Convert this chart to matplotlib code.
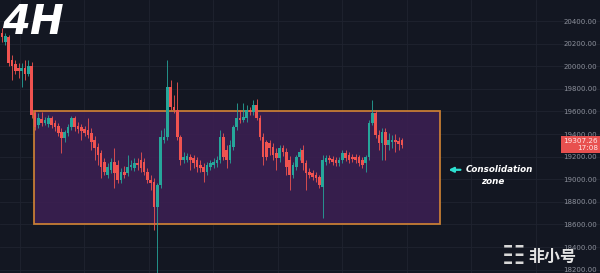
import matplotlib

matplotlib.use("Agg")
import matplotlib.pyplot as plt
from matplotlib.patches import Rectangle
from matplotlib.ticker import FuncFormatter

# 4H candles (price units)
opens = [
    20295, 20215, 20260, 20055, 20020, 19985, 19960, 19985, 19930, 20000,
    19585, 19480, 19535, 19500, 19490, 19540, 19500, 19470, 19420, 19365,
    19410, 19460, 19540, 19470, 19460, 19445, 19435, 19410, 19345, 19285,
    19230, 19150, 19040, 19080, 19150, 19125, 18995, 19065, 19055, 19110,
    19100, 19145, 19170, 19150, 19065, 18995, 18975, 18755, 18950, 19345,
    19375, 19815, 19640, 19615, 19375, 19170, 19170, 19195, 19190, 19170,
    19125, 19110, 19065, 19110, 19125, 19145, 19170, 19375, 19260, 19170,
    19285, 19460, 19540, 19525, 19540, 19615, 19595, 19655, 19540, 19375,
    19330, 19320, 19285, 19230, 19190, 19275, 19240, 19170, 19040, 19110,
    19195, 19260, 19145, 19065, 19055, 19040, 19020, 18930, 19150, 19190,
    19180, 19170, 19145, 19170, 19230, 19215, 19195, 19195, 19195, 19170,
    19145, 19195, 19500, 19585, 19390, 19320, 19420, 19305, 19330, 19345,
    19340, 19345,
]
highs = [
    20340, 20295, 20275, 20100, 20055, 20030, 20030, 20055, 20055, 20035,
    19615, 19585, 19595, 19550, 19570, 19560, 19525, 19500, 19455, 19435,
    19490, 19560, 19560, 19505, 19490, 19470, 19540, 19455, 19380, 19320,
    19260, 19190, 19145, 19190, 19275, 19170, 19100, 19115, 19215, 19170,
    19190, 19190, 19240, 19190, 19100, 19040, 19010, 18965, 19435, 19455,
    20055, 19880, 19745, 19860, 19390, 19240, 19230, 19225, 19215, 19195,
    19170, 19145, 19150, 19170, 19190, 19205, 19435, 19410, 19305, 19345,
    19480, 19675, 19615, 19675, 19655, 19640, 19700, 19710, 19570, 19410,
    19345, 19345, 19320, 19275, 19305, 19305, 19275, 19205, 19150, 19215,
    19275, 19305, 19170, 19100, 19080, 19065, 19040, 19215, 19215, 19215,
    19205, 19195, 19195, 19260, 19260, 19240, 19225, 19225, 19215, 19195,
    19215, 19525, 19700, 19615, 19435, 19455, 19455, 19410, 19390, 19400,
    19370, 19365,
]
lows = [
    20215, 20190, 20000, 19880, 19930, 19895, 19815, 19880, 19915, 19540,
    19435, 19455, 19470, 19480, 19460, 19455, 19425, 19380, 19230, 19330,
    19380, 19435, 19425, 19410, 19345, 19380, 19365, 19260, 19170, 19125,
    19010, 19040, 19010, 19055, 18920, 18965, 18965, 19010, 19030, 19080,
    19075, 19080, 19065, 19040, 18965, 18905, 18550, 18150, 18920, 19320,
    19345, 19615, 19585, 19345, 19125, 19145, 19150, 19080, 19100, 19065,
    19065, 18975, 19040, 19080, 19100, 19110, 19145, 19170, 19100, 19145,
    19260, 19435, 19500, 19505, 19505, 19570, 19570, 19525, 19345, 19125,
    19170, 19215, 19170, 19080, 19150, 19205, 19040, 18905, 19010, 19080,
    19170, 19080, 18905, 19010, 18995, 18975, 18920, 18655, 19125, 19145,
    19125, 19115, 19115, 19145, 19160, 19145, 19150, 19145, 19115, 19100,
    19065, 19170, 19480, 19365, 19260, 19170, 19170, 19260, 19275, 19240,
    19260, 19275,
]
closes = [
    20260, 20265, 20030, 20000, 19960, 19960, 19985, 19930, 20000, 19570,
    19460, 19540, 19500, 19525, 19540, 19480, 19460, 19410, 19365, 19420,
    19460, 19540, 19460, 19445, 19425, 19410, 19390, 19330, 19275, 19215,
    19110, 19065, 19110, 19150, 19055, 18995, 19065, 19040, 19110, 19125,
    19145, 19125, 19100, 19065, 18995, 18965, 18755, 18950, 19375, 19375,
    19815, 19640, 19615, 19375, 19170, 19195, 19205, 19170, 19145, 19110,
    19100, 19065, 19125, 19145, 19150, 19170, 19375, 19195, 19170, 19305,
    19460, 19540, 19525, 19550, 19615, 19595, 19655, 19540, 19375, 19195,
    19195, 19275, 19215, 19190, 19275, 19240, 19110, 19040, 19125, 19195,
    19240, 19145, 19055, 19040, 19020, 19010, 18950, 19170, 19190, 19170,
    19150, 19145, 19170, 19230, 19190, 19170, 19180, 19170, 19145, 19125,
    19195, 19500, 19585, 19390, 19320, 19420, 19305, 19345, 19345, 19330,
    19310, 19305,
]

last_price = 19307.26
countdown = "17:08"
zone_low, zone_high = 18600, 19600
zone_start, zone_end = 9.6, 132.4
price_ticks = list(range(18200, 20401, 200))

BG = "#131722"
UP = "#26a69a"
DOWN = "#ef5350"

fig = plt.figure(figsize=(6.0, 2.73), dpi=100)
fig.patch.set_facecolor(BG)
ax = fig.add_axes([0, 0, 1, 1])
ax.set_facecolor(BG)
ax.set_axisbelow(True)

ax.add_patch(Rectangle((zone_start, zone_low), zone_end - zone_start, zone_high - zone_low,
                       facecolor="#3c1f52", alpha=0.88, edgecolor="#dc8a34", linewidth=1.3, zorder=1))

idx = list(range(len(closes)))
colors = [UP if c >= o else DOWN for o, c in zip(opens, closes)]
ax.vlines(idx, lows, highs, colors=colors, linewidth=0.6, zorder=3)
bottoms = [min(o, c) for o, c in zip(opens, closes)]
heights = [max(abs(c - o), 6) for o, c in zip(opens, closes)]
ax.bar(idx, heights, bottom=bottoms, width=0.8, color=colors, linewidth=0, zorder=4)

ax.set_xlim(-0.6, 179.6)
ax.set_ylim(18170, 20586)

ax.set_xticks([5.4 + 19.5 * k for k in range(10)])
ax.set_yticks(price_ticks)
ax.grid(True, color="#1f2330", linewidth=0.6)
ax.yaxis.tick_right()
ax.yaxis.set_major_formatter(FuncFormatter(lambda v, _: f"{v:.2f}"))
ax.tick_params(axis="y", direction="in", length=0, pad=-2, labelsize=5, labelcolor="#8b8f9a")
for lab in ax.get_yticklabels():
    lab.set_horizontalalignment("right")
ax.tick_params(axis="x", length=0, labelbottom=False)
for s in ax.spines.values():
    s.set_visible(False)

ax.text(0.997, last_price, f"{last_price:.2f}\n{countdown}", transform=ax.get_yaxis_transform(),
        ha="right", va="center", fontsize=5.2, color="#ffe5e5", linespacing=1.1, zorder=6,
        bbox=dict(boxstyle="square,pad=0.3", facecolor="#e8504f", edgecolor="none"))

ax.text(0.004, 0.99, "4H", transform=ax.transAxes, ha="left", va="top", fontsize=29,
        color="white", fontweight="bold", fontstyle="italic", zorder=7)

ax.annotate("", xy=(0.743, 0.378), xytext=(0.772, 0.378), xycoords="axes fraction",
            arrowprops=dict(arrowstyle="-|>", color="#2de0d0", linewidth=1.6, mutation_scale=7))
ax.text(0.832, 0.378, "Consolidation", transform=ax.transAxes, ha="center", va="center",
        fontsize=6.3, color="white", fontweight="bold", fontstyle="italic")
ax.text(0.822, 0.335, "zone", transform=ax.transAxes, ha="center", va="center",
        fontsize=6.3, color="white", fontweight="bold", fontstyle="italic")

ax.text(0.856, 0.058, "☷", transform=ax.transAxes, ha="center", va="center",
        fontsize=19, color="#d8d8d8", zorder=7)
ax.text(0.921, 0.058, "非小号", transform=ax.transAxes, ha="center", va="center",
        fontsize=11.5, color="#e4e4e4", fontweight="bold",
        family=["Noto Sans CJK SC", "DejaVu Sans"], zorder=7)

fig.savefig("out.png", dpi=100, facecolor=BG)
